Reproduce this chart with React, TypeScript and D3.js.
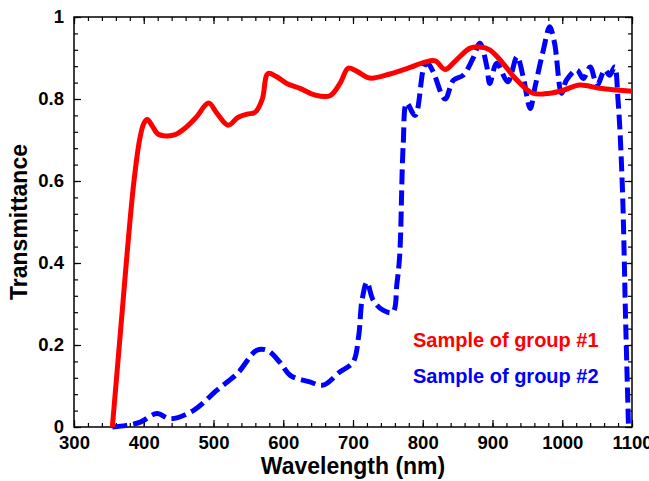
import React, { useEffect, useRef } from "react";
import * as d3 from "d3";

// group #1 (solid red)
const wl1 = [355, 362, 370, 378, 386, 394, 400, 405, 412, 420, 432, 445, 460, 475, 493, 505, 521, 535, 548, 560, 570, 578, 590, 605, 624, 645, 667, 682, 693, 705, 724, 753, 782, 803, 818, 832, 848, 868, 882, 896, 911, 935, 958, 982, 1001, 1025, 1054, 1078, 1100];
const tr1 = [0, 0.14, 0.3, 0.46, 0.6, 0.7, 0.74, 0.75, 0.735, 0.715, 0.71, 0.713, 0.73, 0.755, 0.79, 0.765, 0.736, 0.755, 0.763, 0.768, 0.8, 0.862, 0.855, 0.838, 0.826, 0.81, 0.808, 0.84, 0.875, 0.868, 0.851, 0.861, 0.877, 0.89, 0.893, 0.872, 0.895, 0.924, 0.927, 0.92, 0.895, 0.846, 0.814, 0.814, 0.821, 0.834, 0.826, 0.822, 0.819];

// group #2 (dashed blue)
const wl2 = [355, 375, 395, 419, 438, 471, 505, 534, 562, 577, 595, 610, 638, 657, 681, 700, 708, 713, 720, 729, 743, 757, 763, 767, 772, 777, 789, 803, 808, 815, 832, 844, 858, 872, 882, 892, 896, 906, 922, 935, 944, 954, 961, 973, 982, 989, 999, 1006, 1021, 1030, 1040, 1050, 1061, 1068, 1075, 1080, 1086, 1091, 1095];
const tr2 = [0, 0.004, 0.012, 0.033, 0.02, 0.04, 0.09, 0.13, 0.187, 0.187, 0.158, 0.126, 0.11, 0.102, 0.134, 0.158, 0.22, 0.31, 0.353, 0.309, 0.285, 0.28, 0.35, 0.42, 0.69, 0.79, 0.76, 0.883, 0.885, 0.866, 0.8, 0.846, 0.858, 0.899, 0.936, 0.878, 0.838, 0.887, 0.842, 0.903, 0.854, 0.777, 0.83, 0.92, 0.976, 0.936, 0.814, 0.846, 0.871, 0.85, 0.878, 0.834, 0.871, 0.858, 0.878, 0.797, 0.594, 0.25, 0];

const xMajor = [300, 400, 500, 600, 700, 800, 900, 1000, 1100];
const yMajor = [0, 0.2, 0.4, 0.6, 0.8, 1];
const legendLabels = ["Sample of group #1", "Sample of group #2"];
const colors = ["#ff0000", "#0000ff"];

const W = 649;
const H = 481;
const margin = { left: 74, right: 17, top: 17, bottom: 54 };
const font = "'Liberation Sans', Arial, sans-serif";

export default function App() {
  const ref = useRef<SVGSVGElement>(null);

  useEffect(() => {
    const svg = d3.select(ref.current);
    svg.selectAll("*").remove();

    const x = d3.scaleLinear().domain([300, 1100]).range([margin.left, W - margin.right]);
    const y = d3.scaleLinear().domain([0, 1]).range([H - margin.bottom, margin.top]);

    const xMinor = d3.range(300, 1101, 20);
    const yMinor = d3.range(0, 26).map((i) => i * 0.04);

    const fmt = (d: any) => String(+(+d).toFixed(1));

    const styleAxis = (g: any) => {
      g.select(".domain").remove();
      g.selectAll("line").attr("stroke", "#000").attr("stroke-width", 1.2);
      g.selectAll("text")
        .attr("font-family", font)
        .attr("font-weight", "bold")
        .attr("font-size", 18.5)
        .attr("fill", "#000");
    };

    const bottomY = y(0);
    const topY = y(1);
    const leftX = x(300);
    const rightX = x(1100);

    // minor ticks
    svg.append("g").attr("transform", `translate(0,${bottomY})`)
      .call(d3.axisBottom(x).tickValues(xMinor).tickSize(-4).tickFormat(() => ""))
      .call(styleAxis);
    svg.append("g").attr("transform", `translate(0,${topY})`)
      .call(d3.axisTop(x).tickValues(xMinor).tickSize(-4).tickFormat(() => ""))
      .call(styleAxis);
    svg.append("g").attr("transform", `translate(${leftX},0)`)
      .call(d3.axisLeft(y).tickValues(yMinor).tickSize(-4).tickFormat(() => ""))
      .call(styleAxis);
    svg.append("g").attr("transform", `translate(${rightX},0)`)
      .call(d3.axisRight(y).tickValues(yMinor).tickSize(-4).tickFormat(() => ""))
      .call(styleAxis);

    // major ticks
    svg.append("g").attr("transform", `translate(0,${bottomY})`)
      .call(d3.axisBottom(x).tickValues(xMajor).tickSize(-7).tickPadding(9).tickFormat(fmt))
      .call(styleAxis);
    svg.append("g").attr("transform", `translate(0,${topY})`)
      .call(d3.axisTop(x).tickValues(xMajor).tickSize(-7).tickFormat(() => ""))
      .call(styleAxis);
    svg.append("g").attr("transform", `translate(${leftX},0)`)
      .call(d3.axisLeft(y).tickValues(yMajor).tickSize(-7).tickPadding(10).tickFormat(fmt))
      .call(styleAxis);
    svg.append("g").attr("transform", `translate(${rightX},0)`)
      .call(d3.axisRight(y).tickValues(yMajor).tickSize(-7).tickFormat(() => ""))
      .call(styleAxis);

    // frame
    svg.append("rect")
      .attr("x", leftX).attr("y", topY)
      .attr("width", rightX - leftX).attr("height", bottomY - topY)
      .attr("fill", "none").attr("stroke", "#000").attr("stroke-width", 1.5);

    const pts1 = wl1.map((w, i) => [x(w), y(tr1[i])] as [number, number]);
    const pts2 = wl2.map((w, i) => [x(w), y(tr2[i])] as [number, number]);

    svg.append("path")
      .attr("d", d3.line().curve(d3.curveCatmullRom.alpha(0.5))(pts2))
      .attr("fill", "none").attr("stroke", colors[1]).attr("stroke-width", 5)
      .attr("stroke-dasharray", "15,6").attr("stroke-linejoin", "round");

    svg.append("path")
      .attr("d", d3.line().curve(d3.curveCatmullRom.alpha(0.5))(pts1))
      .attr("fill", "none").attr("stroke", colors[0]).attr("stroke-width", 5)
      .attr("stroke-linejoin", "round");

    // legend
    legendLabels.forEach((label, i) => {
      svg.append("text")
        .attr("x", 413).attr("y", 347 + i * 36)
        .attr("font-family", font).attr("font-weight", "bold").attr("font-size", 20)
        .attr("fill", colors[i])
        .text(label);
    });

    // axis titles
    svg.append("text")
      .attr("x", (leftX + rightX) / 2).attr("y", 474)
      .attr("text-anchor", "middle")
      .attr("font-family", font).attr("font-weight", "bold").attr("font-size", 23)
      .text("Wavelength (nm)");

    svg.append("text")
      .attr("transform", `translate(27,${(topY + bottomY) / 2}) rotate(-90)`)
      .attr("text-anchor", "middle")
      .attr("font-family", font).attr("font-weight", "bold").attr("font-size", 23)
      .text("Transmittance");
  }, []);

  return (
    <svg ref={ref} width={W} height={H}
      style={{ position: "absolute", left: 0, top: 0, background: "#fff" }} />
  );
}
